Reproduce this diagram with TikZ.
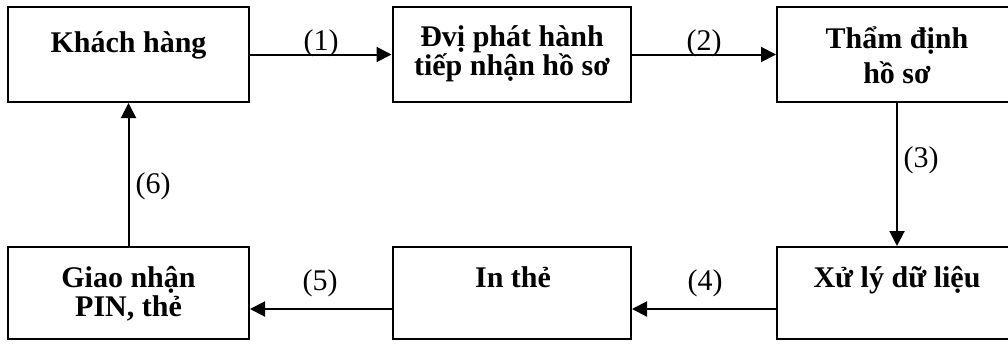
\documentclass[tikz,border=0pt]{standalone}
\usepackage{fontspec}
\setmainfont{Liberation Serif}
\usetikzlibrary{arrows.meta}
\begin{document}
\begin{tikzpicture}[x=1pt,y=-1pt,
  stagebox/.style={draw,line width=2pt,minimum width=#1,inner sep=0pt},
  tophigh/.style={minimum height=95pt},
  lowhigh/.style={minimum height=92pt},
  boxtext/.style={inner sep=0pt,anchor=base,font=\fontsize{30}{30}\selectfont\bfseries},
  steplabel/.style={inner sep=0pt,anchor=base,font=\fontsize{30}{30}\selectfont},
  flow/.style={line width=2pt,-{Triangle[length=15pt,width=15pt]}}]
\clip (0,0) rectangle (1008,343);

% process boxes, top row
\node[stagebox=241pt,tophigh] (kh) at (128.5,54.5) {};
\node[stagebox=238pt,tophigh] (dv) at (511.5,54.5) {};
\node[stagebox=240pt,tophigh] (td) at (897,54.5) {};
% process boxes, bottom row
\node[stagebox=240pt,lowhigh] (xl) at (897,293) {};
\node[stagebox=238pt,lowhigh] (it) at (512,293) {};
\node[stagebox=241pt,lowhigh] (gn) at (128.5,293) {};

% box captions
\node[boxtext] (khA) at (128.5,52) {Khách hàng};
\node[boxtext] (dvA) at (512,46) {Đvị phát hành};
\node[boxtext] (dvB) at (512,75) {tiếp nhận hồ sơ};
\node[boxtext] (tdA) at (897,48) {Thẩm định};
\node[boxtext] (tdB) at (897,83) {hồ sơ};
\node[boxtext] (xlA) at (897,287) {Xử lý dữ liệu};
\node[boxtext] (itA) at (513,287) {In thẻ};
\node[boxtext] (gnA) at (128.5,287) {Giao nhận};
\node[boxtext] (gnB) at (128.5,316) {PIN, thẻ};

% connectors
\draw[flow] (kh.east) -- (dv.west);
\draw[flow] (dv.east) -- (td.west);
\draw[flow] (td.south) -- (xl.north);
\draw[flow] ([yshift=-16pt]xl.west) -- ([yshift=-16pt]it.east);
\draw[flow] ([yshift=-16pt]it.west) -- ([yshift=-16pt]gn.east);
\draw[flow] (gn.north) -- (kh.south);

% step numbers
\node[steplabel] (s1) at (321,50) {(1)};
\node[steplabel] (s2) at (704,50) {(2)};
\node[steplabel] (s3) at (921,167) {(3)};
\node[steplabel] (s4) at (705,290) {(4)};
\node[steplabel] (s5) at (320,290) {(5)};
\node[steplabel] (s6) at (153,193) {(6)};
\end{tikzpicture}
\end{document}
